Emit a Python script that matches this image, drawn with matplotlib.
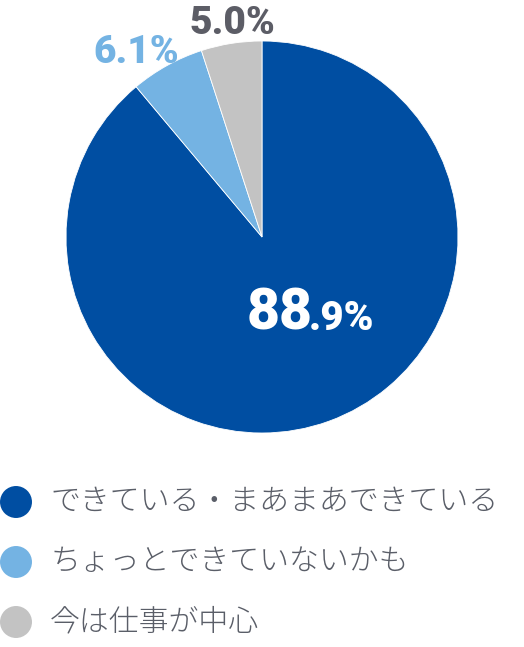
import matplotlib.pyplot as plt

labels = ['できている・まあまあできている', 'ちょっとできていないかも', '今は仕事が中心']
values = [88.9, 6.1, 5.0]
colors = ['#004ea2', '#74b3e3', '#c3c3c3']

plt.rcParams['font.family'] = ['Noto Sans CJK JP', 'DejaVu Sans']

W, H = 524, 647
fig = plt.figure(figsize=(W / 100, H / 100), dpi=100)

# pie area: center (262, 237) px, radius 196 px
cx, cy, r = 262, 237, 196
ax = fig.add_axes([(cx - r) / W, (H - cy - r) / H, 2 * r / W, 2 * r / H])
ax.pie(values, colors=colors, startangle=90, counterclock=False, radius=1,
       wedgeprops=dict(edgecolor='white', linewidth=0.6))
ax.set_xlim(-1, 1)
ax.set_ylim(-1, 1)
ax.set_aspect('equal')
ax.axis('off')

num_font = dict(family='Roboto', weight='heavy')
ax.text(-0.15, 1.09, f'{values[2]:.1f}%', color='#5c5d66', fontsize=28,
        ha='center', va='center', **num_font)
ax.text(-0.64, 0.94, f'{values[1]:.1f}%', color='#74b3e3', fontsize=28,
        ha='center', va='center', **num_font)
big = f'{values[0]:.1f}'
ax.text(-0.08, -0.474, big.split('.')[0], color='white', fontsize=41,
        ha='left', va='baseline', **num_font)
ax.text(0.24, -0.474, '.' + big.split('.')[1] + '%', color='white', fontsize=29,
        ha='left', va='baseline', **num_font)

# legend in pixel coordinates
lax = fig.add_axes([0, 0, 1, 1])
lax.set_xlim(0, W)
lax.set_ylim(H, 0)
lax.axis('off')
ys = [502, 562, 622]
lax.scatter([16] * len(ys), ys, s=530, c=colors, linewidths=0)
for y, lab in zip(ys, labels):
    lax.text(50, y, lab, fontsize=21.5, color='#5a5e68', fontweight='light',
             ha='left', va='center')

fig.savefig('out.png', dpi=100)
